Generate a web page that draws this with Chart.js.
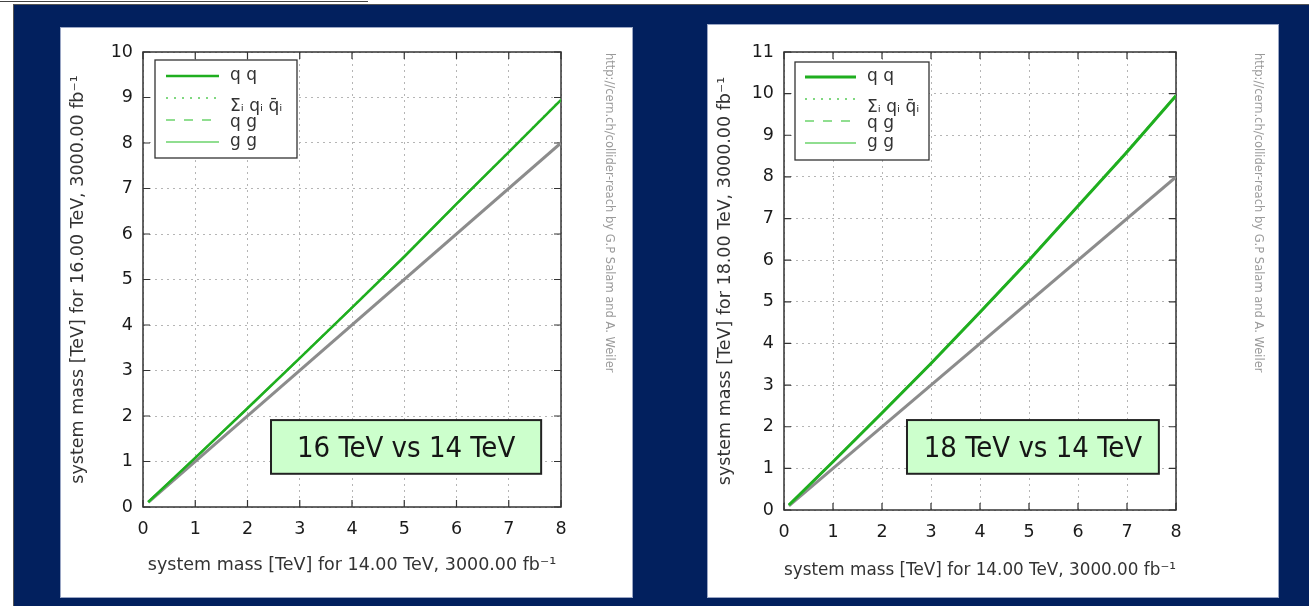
<!DOCTYPE html>
<html>
<head>
<meta charset="utf-8">
<script src="https://cdn.jsdelivr.net/npm/chart.js@4.4.1/dist/chart.umd.min.js"></script>
<style>
  body { margin: 0; width: 1309px; height: 606px; background: #fff; position: relative; overflow: hidden; }
  #topline { position: absolute; left: 0; top: 1px; width: 368px; height: 1px; background: #444; }
  #slide { position: absolute; left: 13px; top: 4px; width: 1296px; height: 602px; background: #02205e;
           border-left: 1px solid #555; border-top: 1px solid #555; box-sizing: border-box; }
  .panel { position: absolute; background: #fff; box-shadow: 0 0 0 1px #9aa6c4; }
  #p1 { left: 61px; top: 28px; width: 571px; height: 569px; }
  #p2 { left: 708px; top: 25px; width: 570px; height: 572px; }
  canvas { display: block; }
</style>
</head>
<body>
<div id="topline"></div>
<div id="slide"></div>
<div class="panel" id="p1"><canvas id="c16" width="571" height="569"></canvas></div>
<div class="panel" id="p2"><canvas id="c18" width="570" height="572"></canvas></div>
<script>
// reach at 14 TeV (x) vs reach at the higher energy (y)
const massX = [0.1, 1, 2, 3, 4, 5, 6, 7, 8];

const qq16 = [0.11, 1.08, 2.17, 3.27, 4.38, 5.50, 6.66, 7.80, 8.95];
const qqbar16 = [0.11, 1.08, 2.17, 3.28, 4.39, 5.51, 6.66, 7.81, 8.96];
const qg16 = [0.11, 1.08, 2.16, 3.27, 4.38, 5.50, 6.65, 7.80, 8.95];
const gg16 = [0.11, 1.09, 2.17, 3.27, 4.38, 5.51, 6.66, 7.80, 8.94];

const qq18 = [0.12, 1.16, 2.33, 3.52, 4.75, 6.00, 7.30, 8.60, 9.95];
const qqbar18 = [0.12, 1.16, 2.34, 3.53, 4.76, 6.02, 7.31, 8.62, 9.96];
const qg18 = [0.12, 1.15, 2.33, 3.52, 4.74, 6.00, 7.29, 8.60, 9.94];
const gg18 = [0.12, 1.16, 2.34, 3.53, 4.76, 6.01, 7.31, 8.61, 9.97];

// y = x reference
const refX = [0.1, 8];
const refY = [0.1, 8];

const seriesLabels = ['q q', 'Σᵢ qᵢ q̄ᵢ', 'q g', 'g g'];
const xTitle = 'system mass [TeV] for 14.00 TeV, 3000.00 fb⁻¹';
const credit = 'http://cern.ch/collider-reach by G.P Salam and A. Weiler';

const FONT = '"DejaVu Sans", sans-serif';
const pts = (xs, ys) => xs.map((x, i) => ({ x: x, y: ys[i] }));

const framePlugin = {
  id: 'frame',
  beforeDatasetsDraw(chart) {
    const { ctx, chartArea: a, scales: { x, y } } = chart;
    ctx.save();
    ctx.strokeStyle = '#333';
    ctx.lineWidth = 1.5;
    ctx.strokeRect(a.left, a.top, a.right - a.left, a.bottom - a.top);
    ctx.lineWidth = 1.2;
    ctx.beginPath();
    x.ticks.forEach(t => {
      const px = x.getPixelForValue(t.value);
      ctx.moveTo(px, a.bottom); ctx.lineTo(px, a.bottom - 7);
      ctx.moveTo(px, a.top); ctx.lineTo(px, a.top + 7);
    });
    y.ticks.forEach(t => {
      const py = y.getPixelForValue(t.value);
      ctx.moveTo(a.left, py); ctx.lineTo(a.left + 7, py);
      ctx.moveTo(a.right, py); ctx.lineTo(a.right - 7, py);
    });
    ctx.stroke();
    ctx.restore();
  }
};

const boxLegend = {
  id: 'boxLegend',
  afterDatasetsDraw(chart, args, opts) {
    const { ctx, chartArea: a } = chart;
    const bx = a.left + opts.dx, by = a.top + opts.dy;
    ctx.save();
    ctx.fillStyle = '#fff';
    ctx.fillRect(bx, by, opts.w, opts.h);
    ctx.strokeStyle = '#333';
    ctx.lineWidth = 1.3;
    ctx.strokeRect(bx, by, opts.w, opts.h);
    ctx.font = '17px ' + FONT;
    ctx.textBaseline = 'middle';
    ctx.fillStyle = '#333';
    const textShift = [0, 9, 3, 0];
    chart.data.datasets.filter(d => d.inLegend !== false).forEach((d, i) => {
      const ry = by + opts.firstRow + i * opts.rowGap;
      ctx.save();
      ctx.strokeStyle = d.borderColor;
      ctx.lineWidth = d.borderWidth;
      ctx.setLineDash(d.borderDash || []);
      ctx.beginPath();
      ctx.moveTo(bx + opts.lineX, ry);
      ctx.lineTo(bx + opts.lineX + opts.lineLen, ry);
      ctx.stroke();
      ctx.restore();
      ctx.fillText(d.label, bx + opts.textX, ry + textShift[i]);
    });
    ctx.restore();
  }
};

const noteBox = {
  id: 'noteBox',
  afterDatasetsDraw(chart, args, opts) {
    const { ctx, scales: { x, y } } = chart;
    const x0 = x.getPixelForValue(opts.x0), x1 = x.getPixelForValue(opts.x1);
    const y0 = y.getPixelForValue(opts.y1), y1 = y.getPixelForValue(opts.y0);
    ctx.save();
    ctx.fillStyle = '#ccffcc';
    ctx.fillRect(x0, y0, x1 - x0, y1 - y0);
    ctx.strokeStyle = '#222';
    ctx.lineWidth = 2;
    ctx.strokeRect(x0, y0, x1 - x0, y1 - y0);
    ctx.fillStyle = '#151515';
    ctx.font = '29px "DejaVu Sans Condensed", "DejaVu Sans", sans-serif';
    ctx.textAlign = 'center';
    ctx.textBaseline = 'alphabetic';
    ctx.fillText(opts.text, (x0 + x1) / 2, (y0 + y1) / 2 + 10.5);
    ctx.restore();
  }
};

const creditText = {
  id: 'creditText',
  afterDraw(chart, args, opts) {
    const { ctx, chartArea: a } = chart;
    ctx.save();
    ctx.translate(chart.width - opts.fromRight, a.top + 1);
    ctx.rotate(Math.PI / 2);
    ctx.font = '11.5px ' + FONT;
    ctx.fillStyle = '#9a9a9a';
    ctx.textAlign = 'left';
    ctx.textBaseline = 'middle';
    ctx.fillText(credit, 0, 0);
    ctx.restore();
  }
};

function makeChart(id, s) {
  const datasets = [
    { label: seriesLabels[0], data: pts(massX, s.ys[0]), borderColor: '#1fae1f', borderWidth: s.lineW, order: 0 },
    { label: seriesLabels[1], data: pts(massX, s.ys[1]), borderColor: '#80d880', borderWidth: 2, borderDash: [2, 6], order: 1 },
    { label: seriesLabels[2], data: pts(massX, s.ys[2]), borderColor: '#90de90', borderWidth: 2, borderDash: [9, 9], order: 2 },
    { label: seriesLabels[3], data: pts(massX, s.ys[3]), borderColor: '#90de90', borderWidth: 2, order: 3 },
    { label: 'y = x', data: pts(refX, refY), borderColor: '#8c8c8c', borderWidth: 3, order: 4, inLegend: false }
  ];
  datasets.forEach(d => { d.showLine = true; d.pointRadius = 0; d.fill = false; d.tension = 0; });

  return new Chart(document.getElementById(id), {
    type: 'scatter',
    data: { datasets: datasets },
    plugins: [framePlugin, boxLegend, noteBox, creditText],
    options: {
      responsive: false,
      animation: false,
      events: [],
      layout: { padding: { left: 0, top: s.top, right: s.right, bottom: 0 } },
      plugins: {
        legend: { display: false },
        tooltip: { enabled: false },
        boxLegend: s.legend,
        noteBox: s.note,
        creditText: { fromRight: s.creditRight }
      },
      scales: {
        x: {
          type: 'linear', min: 0, max: 8,
          ticks: { stepSize: 1, padding: 12, color: '#1a1a1a', font: { family: FONT, size: 17.5 } },
          grid: { color: '#b5b5b5', lineWidth: 1, drawTicks: false },
          border: { display: false, dash: [2, 4] },
          title: { display: true, text: xTitle, color: '#333', font: { family: FONT, size: 17.5 }, padding: { top: 0, bottom: s.xTitlePad } },
          afterFit: sc => { sc.height = s.xHeight; sc.paddingLeft = 0; sc.paddingRight = 0; }
        },
        y: {
          type: 'linear', min: 0, max: s.yMax,
          ticks: { stepSize: 1, padding: 10, color: '#1a1a1a', font: { family: FONT, size: 17.5 } },
          grid: { color: '#b5b5b5', lineWidth: 1, drawTicks: false },
          border: { display: false, dash: [2, 4] },
          title: { display: true, text: s.yTitle, color: '#333', font: { family: FONT, size: 17.5 }, padding: { top: 7, bottom: 0 } },
          afterFit: sc => { sc.width = s.yWidth; sc.paddingTop = 0; sc.paddingBottom = 0; }
        }
      }
    }
  });
}

makeChart('c16', {
  ys: [qq16, qqbar16, qg16, gg16],
  yMax: 10,
  yTitle: 'system mass [TeV] for 16.00 TeV, 3000.00 fb⁻¹',
  top: 24, right: 71, yWidth: 82, xHeight: 90, xTitlePad: 21,
  creditRight: 23, lineW: 2.5,
  legend: { dx: 12, dy: 8, w: 142, h: 98, firstRow: 16, rowGap: 22, lineX: 11, lineLen: 53, textX: 75 },
  note: { text: '16 TeV vs 14 TeV', x0: 2.45, x1: 7.62, y0: 0.73, y1: 1.91 }
});

makeChart('c18', {
  ys: [qq18, qqbar18, qg18, gg18],
  yMax: 11,
  yTitle: 'system mass [TeV] for 18.00 TeV, 3000.00 fb⁻¹',
  top: 27, right: 102, yWidth: 76, xHeight: 87, xTitlePad: 16,
  creditRight: 20, lineW: 3,
  legend: { dx: 11, dy: 10, w: 134, h: 98, firstRow: 15, rowGap: 22, lineX: 10, lineLen: 51, textX: 72 },
  note: { text: '18 TeV vs 14 TeV', x0: 2.51, x1: 7.65, y0: 0.87, y1: 2.16 }
});
</script>
</body>
</html>
